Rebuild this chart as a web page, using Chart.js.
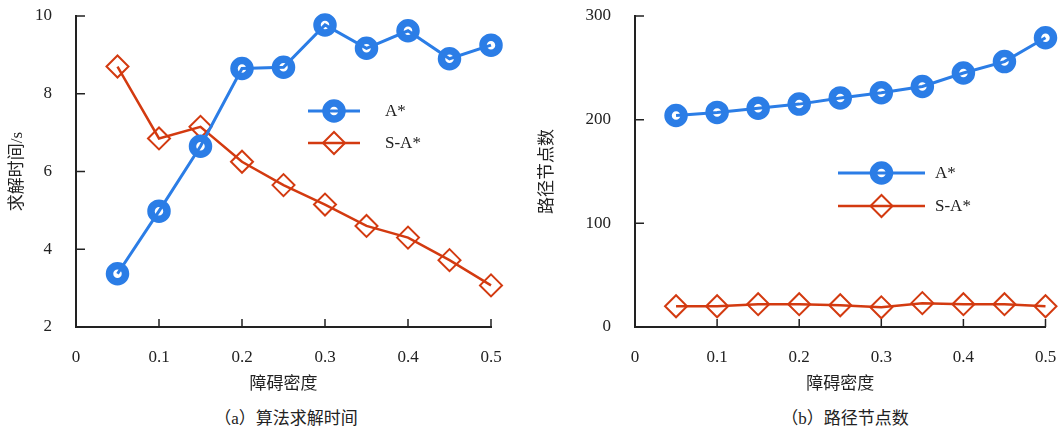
<!DOCTYPE html>
<html>
<head>
<meta charset="utf-8">
<script src="https://cdn.jsdelivr.net/npm/chart.js@4.4.1/dist/chart.umd.min.js"></script>
<style>
  body { margin: 0; background: #fff; width: 1061px; height: 427px; position: relative; overflow: hidden;
         font-family: 'Liberation Serif', 'Noto Sans CJK SC', serif; }
  canvas { position: absolute; top: 0; }
  .cap { position: absolute; top: 409px; font-size: 17px; line-height: 20px; color: #222;
         transform: translateX(-50%); white-space: nowrap; }
</style>
</head>
<body>
<canvas id="timeChart" width="530" height="400" style="left:0"></canvas>
<canvas id="nodeChart" width="531" height="400" style="left:530px"></canvas>
<div class="cap" style="left:286px">（a）算法求解时间</div>
<div class="cap" style="left:845px">（b）路径节点数</div>
<script>
// obstacle density on the x axis
const density = [0.05, 0.1, 0.15, 0.2, 0.25, 0.3, 0.35, 0.4, 0.45, 0.5];
const xTicks = [0, 0.1, 0.2, 0.3, 0.4, 0.5];

// (a) solve time in seconds
const timeAStar = [3.37, 4.98, 6.65, 8.65, 8.68, 9.77, 9.17, 9.62, 8.9, 9.25];
const timeSAStar = [8.7, 6.85, 7.15, 6.25, 5.65, 5.15, 4.6, 4.3, 3.72, 3.07];
const timeTicks = [2, 4, 6, 8, 10];

// (b) number of path nodes
const nodesAStar = [204, 207, 211, 215, 221, 226, 232, 245, 256, 279];
const nodesSAStar = [20, 20, 22, 22, 21, 19, 23, 22, 22, 20];
const nodeTicks = [0, 100, 200, 300];

const seriesNames = ['A*', 'S-A*'];
const BLUE = '#2b7de6';
const RED = '#d33a10';
const FONT = "'Liberation Serif', 'Noto Sans CJK SC', serif";
const INK = '#222';

function pts(ys) {
  return density.map((x, i) => ({ x: x, y: ys[i] }));
}

function makeSets(a, b) {
  return [{
    label: seriesNames[0], data: pts(a),
    borderColor: BLUE, borderWidth: 3, backgroundColor: 'rgba(0,0,0,0)',
    pointStyle: 'circle', pointRadius: 8, pointBorderWidth: 7.5,
    pointBorderColor: BLUE, pointBackgroundColor: 'rgba(0,0,0,0)', clip: false
  }, {
    label: seriesNames[1], data: pts(b),
    borderColor: RED, borderWidth: 2.5, backgroundColor: 'rgba(0,0,0,0)',
    pointStyle: 'rectRot', pointRadius: 11, pointBorderWidth: 2,
    pointBorderColor: RED, pointBackgroundColor: 'rgba(0,0,0,0)', clip: false
  }];
}

// ticks pointing into the plot area
const innerTicks = {
  id: 'innerTicks',
  afterDatasetsDraw(chart) {
    const ctx = chart.ctx;
    const x = chart.scales.x, y = chart.scales.y;
    ctx.save();
    ctx.strokeStyle = INK;
    ctx.lineWidth = 1.5;
    ctx.beginPath();
    x.ticks.forEach(t => {
      const px = x.getPixelForValue(t.value);
      ctx.moveTo(px, y.bottom);
      ctx.lineTo(px, y.bottom - 8);
    });
    y.ticks.forEach(t => {
      const py = y.getPixelForValue(t.value);
      ctx.moveTo(x.left, py);
      ctx.lineTo(x.left + 9, py);
    });
    ctx.stroke();
    ctx.restore();
  }
};

// legend with the line running through the marker
const lineLegend = {
  id: 'lineLegend',
  afterDraw(chart, args, opts) {
    const ctx = chart.ctx;
    ctx.save();
    chart.data.datasets.forEach((ds, i) => {
      const cy = opts.y + i * opts.rowH;
      ctx.strokeStyle = ds.borderColor;
      ctx.lineWidth = ds.borderWidth;
      ctx.beginPath();
      ctx.moveTo(opts.x1, cy);
      ctx.lineTo(opts.x2, cy);
      ctx.stroke();
      ctx.fillStyle = 'rgba(0,0,0,0)';
      ctx.lineWidth = ds.pointBorderWidth;
      Chart.helpers.drawPoint(ctx, {
        pointStyle: ds.pointStyle, radius: ds.pointRadius,
        rotation: 0, borderWidth: ds.pointBorderWidth
      }, (opts.x1 + opts.x2) / 2, cy);
      ctx.fillStyle = INK;
      ctx.font = '17px ' + FONT;
      ctx.textBaseline = 'middle';
      ctx.fillText(ds.label, opts.tx, cy + 1);
    });
    ctx.restore();
  }
};

function makeChart(id, sets, yMin, yMax, yTicks, yTitle, yWidth, rightPad, legend) {
  return new Chart(document.getElementById(id), {
    type: 'line',
    data: { datasets: sets },
    plugins: [innerTicks, lineLegend],
    options: {
      responsive: false,
      animation: false,
      layout: { padding: { left: 0, right: rightPad, top: 16, bottom: 0 } },
      plugins: { legend: { display: false }, tooltip: { enabled: false }, lineLegend: legend },
      scales: {
        x: {
          type: 'linear', min: 0, max: 0.5,
          afterBuildTicks: s => { s.ticks = xTicks.map(v => ({ value: v })); },
          afterFit: s => { s.height = 73; s.paddingLeft = 0; s.paddingRight = 0; },
          grid: { display: false },
          border: { color: INK, width: 2 },
          ticks: {
            color: INK, padding: 12, maxRotation: 0,
            font: { family: FONT, size: 17 },
            callback: v => v === 0 ? '0' : v.toFixed(1)
          },
          title: {
            display: true, text: '障碍密度', color: INK,
            font: { family: FONT, size: 17 }, padding: { bottom: 5 }
          }
        },
        y: {
          min: yMin, max: yMax,
          afterBuildTicks: s => { s.ticks = yTicks.map(v => ({ value: v })); },
          afterFit: s => { s.width = yWidth; s.paddingTop = 0; s.paddingBottom = 0; },
          grid: { display: false },
          border: { color: INK, width: 2 },
          ticks: { color: INK, padding: 16, font: { family: FONT, size: 17 } },
          title: {
            display: true, text: yTitle, color: INK,
            font: { family: FONT, size: 17 }, padding: { top: 7 }
          }
        }
      }
    }
  });
}

makeChart('timeChart', makeSets(timeAStar, timeSAStar), 2, 10, timeTicks, '求解时间/s', 76, 39,
  { x1: 308, x2: 360, y: 111, rowH: 32, tx: 385 });
makeChart('nodeChart', makeSets(nodesAStar, nodesSAStar), 0, 300, nodeTicks, '路径节点数', 105, 11,
  { x1: 308, x2: 395, y: 173, rowH: 33, tx: 405 });
</script>
</body>
</html>
